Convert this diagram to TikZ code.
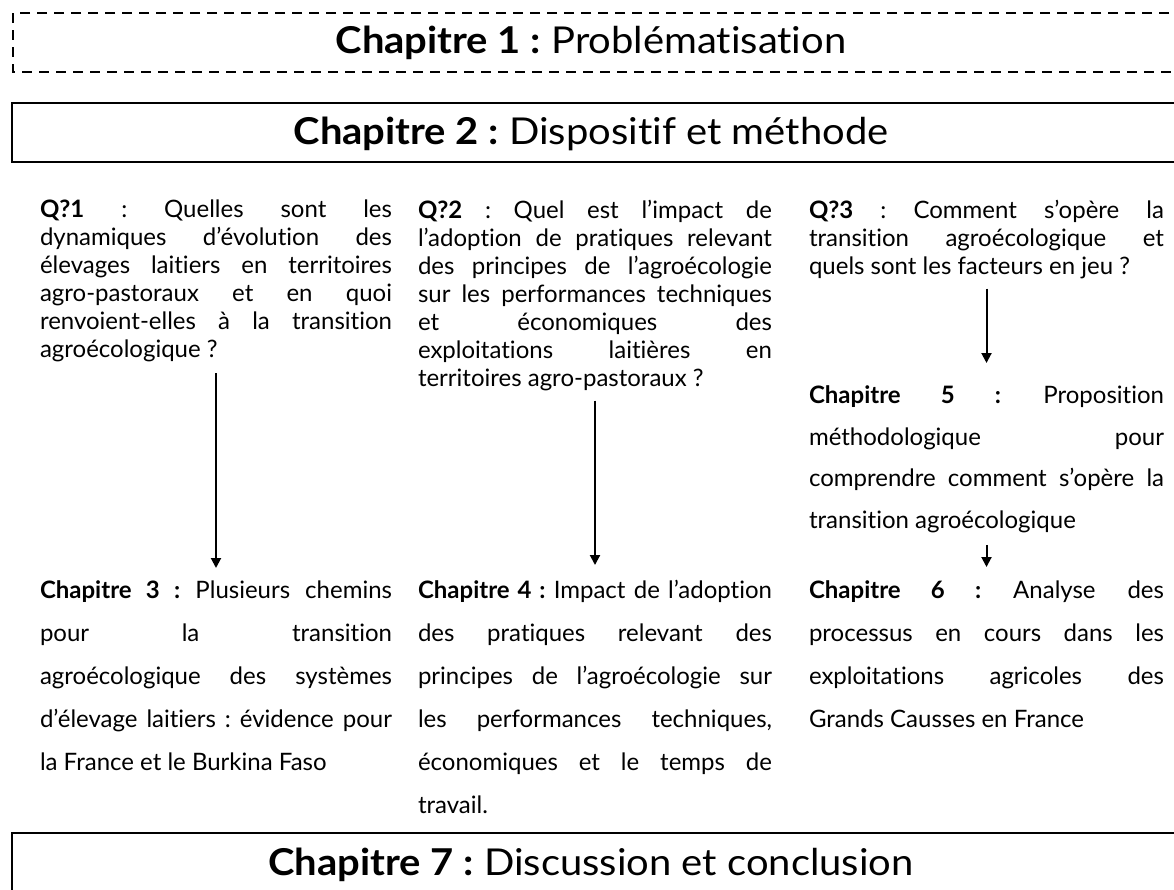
\documentclass[tikz,border=0pt]{standalone}
\usepackage{fontspec}
\setmainfont{Lato}[Ligatures={NoCommon}]
\newfontfamily\titlefont{Lato}[FakeStretch=1.08, Ligatures={NoCommon}]
\usetikzlibrary{arrows.meta}
\hbadness=10000
\hfuzz=20pt
\frenchspacing
\begin{document}
\frenchspacing
\begin{tikzpicture}[x=1pt,y=-1pt,
  every node/.style={inner sep=0pt, outer sep=0pt},
  solidbox/.style={line width=2.6pt},
  dashbox/.style={line width=2.6pt, dash pattern=on 10pt off 7pt},
  titletext/.style={font=\titlefont\fontsize{37}{40}\selectfont, anchor=base},
  qtext/.style={align=justify, anchor=north west, font=\fontsize{24}{28}\selectfont\frenchspacing},
  chtext/.style={align=justify, anchor=north west, font=\fontsize{24}{43}\selectfont\frenchspacing},
  c5text/.style={align=justify, anchor=north west, font=\fontsize{24}{41.7}\selectfont\frenchspacing},
  arr/.style={line width=2pt, -{Triangle[length=10pt,width=10pt]}}
]
\useasboundingbox (0,0) rectangle (1174,889);
\clip (0,0) rectangle (1174,889);
\fill[white] (0,0) rectangle (1174,889);
% boxes
\draw[dashbox] (1220,13) -- (13,13) -- (13,72) -- (1220,72);
\draw[solidbox] (1220,103) -- (12,103) -- (12,162) -- (1220,162);
\draw[solidbox] (1220,833) -- (12,833) -- (12,900);
% titles
\node[titletext] (t1) at (591,53) {\textbf{Chapitre 1 :} Problématisation};
\node[titletext] (t2) at (591,144) {\textbf{Chapitre 2 :} Dispositif et méthode};
\node[titletext] (t7) at (591,875) {\textbf{Chapitre 7 :} Discussion et conclusion};
% questions
\node[qtext, text width=352pt] (q1) at (40,200) {\textbf{Q?1} : Quelles sont les\linebreak dynamiques d’évolution des\linebreak élevages laitiers en territoires\linebreak agro-pastoraux et en quoi\linebreak renvoient-elles à la transition\linebreak agroécologique ?};
\node[qtext, text width=354pt] (q2) at (418,200) {\textbf{Q?2} : Quel est l’impact de\linebreak l’adoption de pratiques relevant\linebreak des principes de l’agroécologie\linebreak sur les performances techniques\linebreak et économiques des\linebreak exploitations laitières en\linebreak territoires agro-pastoraux ?};
\node[qtext, text width=355pt] (q3) at (809,200) {\textbf{Q?3} : Comment s’opère la\linebreak transition agroécologique et\linebreak quels sont les facteurs en jeu ?};
% chapters
\node[chtext, text width=352pt] (c3) at (40,580.5) {\textbf{Chapitre 3 :} Plusieurs chemins\linebreak pour la transition\linebreak agroécologique des systèmes\linebreak d’élevage laitiers : évidence pour\linebreak la France et le Burkina Faso};
\node[chtext, text width=354pt] (c4) at (418,580.5) {\textbf{Chapitre 4 :} Impact de l’adoption\linebreak des pratiques relevant des\linebreak principes de l’agroécologie sur\linebreak les performances techniques,\linebreak économiques et le temps de\linebreak travail.};
\node[c5text, text width=355pt] (c5) at (809,385.5) {\textbf{Chapitre 5 :} Proposition\linebreak méthodologique pour\linebreak comprendre comment s’opère la\linebreak transition agroécologique};
\node[chtext, text width=355pt] (c6) at (809,580.5) {\textbf{Chapitre 6 :} Analyse des\linebreak processus en cours dans les\linebreak exploitations agricoles des\linebreak Grands Causses en France};
% arrows
\draw[arr] ([yshift=-11pt]q1.south) -- ([yshift=12.5pt]c3.north);
\draw[arr] ([yshift=-10pt]q2.south) -- ([yshift=15.5pt]c4.north);
\draw[arr] ([yshift=-10pt]q3.south) -- ([yshift=22.5pt]c5.north);
\draw[arr] ([yshift=-12pt]c5.south) -- ([yshift=13.5pt]c6.north);
\end{tikzpicture}
\end{document}
